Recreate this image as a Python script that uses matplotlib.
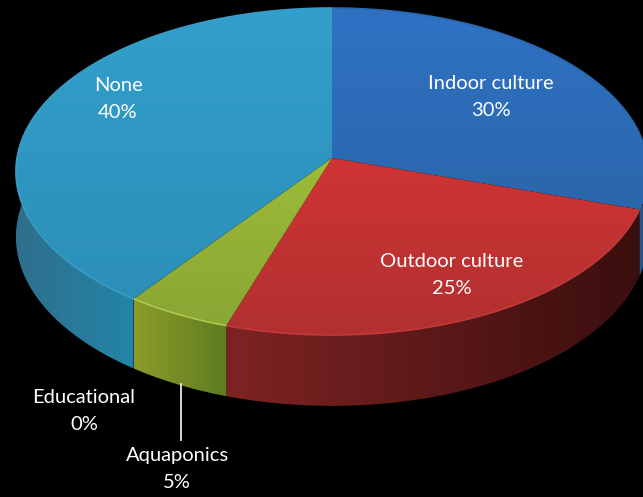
import numpy as np
import matplotlib
matplotlib.use("Agg")
import matplotlib.pyplot as plt
from matplotlib.patches import Polygon
from matplotlib.colors import LinearSegmentedColormap

categories = ["Indoor culture", "Outdoor culture", "Aquaponics", "Educational", "None"]
percents = [30, 25, 5, 0, 40]

top_light = ["#2f72c4", "#d03434", "#9dbb38", "#8064a2", "#329fcc"]
top_dark = ["#2a66ac", "#b23030", "#8aa634", "#8064a2", "#2c8fb8"]
side_light = ["#2a5c9c", "#7e2323", "#8b9c2a", "#60497a", "#2384a8"]
side_dark = ["#1c3c66", "#3a0e0e", "#5f7c22", "#40305a", "#2f6f8c"]
rim_colors = ["#2a66ac", "#c23a3a", "#b0c84c", "#8064a2", "#3a9cc4"]

label_pos = [(491, 97), (452, 275), (177, 469), (84, 411), (118, 99)]

W, H = 643, 497
CX, CY = 332, 158
RX, RY = 315, 162.4
PERSP = 0.0826
DEPTH = 65


def rim(t, depth=0.0):
    # perspective projection of a point on the pie edge, t clockwise from 12 o'clock
    u, v = np.sin(t), np.cos(t)
    w = 1 / (1 + PERSP * v)
    return CX + RX * u * w, CY - RY * v * w + depth * w


def fill_gradient(ax, poly, c0, c1, horizontal=False, zorder=1):
    cmap = LinearSegmentedColormap.from_list("shade", [c0, c1])
    g = np.linspace(0, 1, 256)
    g = g.reshape(1, -1) if horizontal else g.reshape(-1, 1)
    xs, ys = poly[:, 0], poly[:, 1]
    im = ax.imshow(g, cmap=cmap, aspect="auto", zorder=zorder, interpolation="bilinear",
                   extent=(xs.min(), xs.max(), ys.max(), ys.min()))
    patch = Polygon(poly, closed=True, transform=ax.transData, fc="none", ec="none")
    ax.add_patch(patch)
    im.set_clip_path(patch)


fig = plt.figure(figsize=(W / 100, H / 100), dpi=100, facecolor="black")
ax = fig.add_axes([0, 0, 1, 1])
ax.set_facecolor("black")

fracs = np.cumsum([0] + percents) / sum(percents) * 2 * np.pi

# outer wall first, only the part facing the viewer
for i in range(len(percents)):
    if percents[i] == 0:
        continue
    lo, hi = fracs[i], fracs[i + 1]
    lo_v, hi_v = max(lo, np.pi / 2 * 0.93), min(hi, np.pi * 1.5 * 1.03)
    if hi_v <= lo_v:
        continue
    t = np.linspace(lo_v, hi_v, 120)
    x0, y0 = rim(t)
    x1, y1 = rim(t[::-1], DEPTH)
    poly = np.column_stack([np.r_[x0, x1], np.r_[y0, y1]])
    # the wall darkens away from the front of the pie
    c0, c1 = side_light[i], side_dark[i]
    if categories[i] == "None":
        c0, c1 = side_dark[i], side_light[i]
    fill_gradient(ax, poly, c0, c1, True, zorder=1)

# top surface
for i in range(len(percents)):
    if percents[i] == 0:
        continue
    t = np.linspace(fracs[i], fracs[i + 1], 200)
    x, y = rim(t)
    poly = np.column_stack([np.r_[CX, x], np.r_[CY, y]])
    fill_gradient(ax, poly, top_light[i], top_dark[i], zorder=2)
    ax.plot(x, y, color=rim_colors[i], lw=1.2, zorder=3, solid_capstyle="butt")

# leader line for the small slice
ax.plot([181, 181], [384, 440], color="#e8e8e8", lw=1.3, zorder=3)

for name, p, (lx, ly) in zip(categories, percents, label_pos):
    ax.text(lx, ly, f"{name}\n{p}%", color="white", ha="center", va="center",
            fontsize=14.5, family="Lato", linespacing=1.7, zorder=4)

ax.set_xlim(0, W)
ax.set_ylim(H, 0)
ax.axis("off")
fig.savefig("out.png", dpi=100, facecolor="black")
